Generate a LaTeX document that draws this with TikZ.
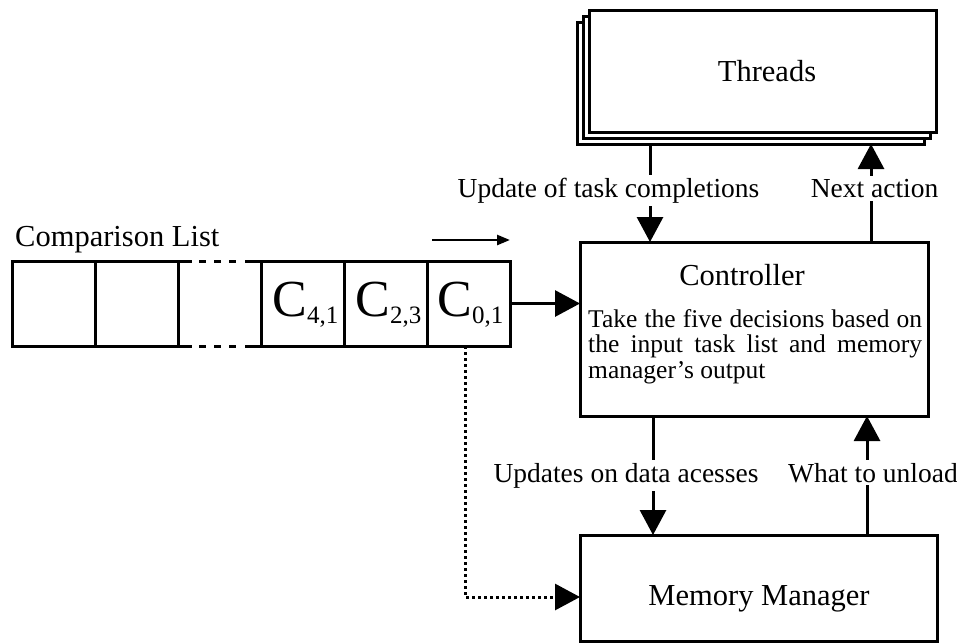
\documentclass[tikz,border=0pt]{standalone}
\usepackage{fontspec}
\setmainfont{Liberation Serif}
\usetikzlibrary{arrows.meta,calc}
\hyphenpenalty=10000
\exhyphenpenalty=10000

\begin{document}
\begin{tikzpicture}[x=1pt,y=-1pt,
  box/.style={draw, line width=3pt, fill=white, inner sep=0pt, outer sep=0pt},
  cell/.style={box, minimum width=83pt, minimum height=85pt},
  gapcell/.style={inner sep=0pt, outer sep=0pt, minimum width=83pt, minimum height=85pt},
  arr/.style={line width=3pt, -{Triangle[length=25pt,width=26pt]}},
  dotarr/.style={arr, dash pattern=on 3pt off 3pt},
  lbl/.style={fill=white, inner sep=3pt, anchor=base, font=\fontsize{27.5}{30}\selectfont},
  ttl/.style={anchor=base, inner sep=0pt, font=\fontsize{30.5}{33}\selectfont},
  clabel/.style={anchor=base, inner sep=0pt, font=\fontsize{52}{52}\selectfont},
  seg/.style={line width=3pt},
]
\newcommand{\csub}[1]{\raisebox{-6.5pt}{\fontsize{25}{25}\selectfont #1}}
\useasboundingbox (0,0) rectangle (957,643);

% ---- thread stack (back to front) ----
\node[box, minimum width=347pt, minimum height=122pt] (thr3) at (750.5,83) {};
\node[box, minimum width=347pt, minimum height=122pt] (thr2) at (756.5,77) {};
\node[box, minimum width=347pt, minimum height=122pt] (thr)  at (762.5,71) {};
\node[ttl] (thrtxt) at (767,81.7) {Threads};

% ---- controller ----
\node[box, minimum width=348pt, minimum height=174pt] (ctl) at (754,329) {};
\node[ttl] (ctltxt) at (742,285) {Controller};
\node[anchor=base west, inner sep=0pt, text width=334pt, align=justify,
      font=\fontsize{25.5}{25.5}\selectfont] (desc) at (588,327)
  {Take the five decisions based on the input task list and memory manager’s output};

% ---- memory manager ----
\node[box, minimum width=357pt, minimum height=106pt] (mem) at (758.5,588) {};
\node[ttl] (memtxt) at (759,605) {Memory Manager};

% ---- comparison list ----
\node[anchor=base west, inner sep=0pt, font=\fontsize{30.5}{33}\selectfont] (cltitle) at (15,246) {Comparison List};
\node[cell] (c1) at (53.5,303.5) {};
\node[cell] (c2) at (136.5,303.5) {};
\node[gapcell] (c3) at (219.5,303.5) {};
\node[cell] (c4) at (302.5,303.5) {};
\node[cell] (c5) at (385.5,303.5) {};
\node[cell] (c6) at (468.5,303.5) {};
% elided cell: solid ends, dashed middle
\draw[seg] (c3.north west) -- ([xshift=14pt]c3.north west);
\draw[seg] (c3.south west) -- ([xshift=14pt]c3.south west);
\draw[seg] (c3.north east) -- ([xshift=-16pt]c3.north east);
\draw[seg] (c3.south east) -- ([xshift=-16pt]c3.south east);
\draw[seg, dash pattern=on 7pt off 8pt] ([xshift=21pt]c3.north west) -- ([xshift=-23pt]c3.north east);
\draw[seg, dash pattern=on 7pt off 8pt] ([xshift=21pt]c3.south west) -- ([xshift=-23pt]c3.south east);

\node[clabel] (l4) at ($(c4.center)+(3,13)$) {C\csub{4,1}};
\node[clabel] (l5) at ($(c5.center)+(3,13)$) {C\csub{2,3}};
\node[clabel] (l6) at ($(c6.center)+(2,13)$) {C\csub{0,1}};

% direction marker above the list
\coordinate (dirA) at (432,240);
\coordinate (dirB) at (510,240);
\draw[line width=2.5pt, -{Triangle[length=13pt,width=10pt]}] (dirA) -- (dirB);

% ---- connectors ----
\coordinate (updx) at (650,0);
\coordinate (nax) at (871,0);
\coordinate (dax) at (653,0);
\coordinate (unx) at (867,0);
\coordinate (dturn) at (465,597);

\draw[arr] (thr3.south -| updx) -- (ctl.north -| updx);
\draw[arr] (ctl.north -| nax) -- (thr3.south -| nax);
\draw[arr] (ctl.south -| dax) -- (mem.north -| dax);
\draw[arr] (mem.north -| unx) -- (ctl.south -| unx);
\draw[arr] (c6.east) -- (c6.east -| ctl.west);
\draw[dotarr] (c6.south -| dturn) -- (dturn) -- (dturn -| mem.west);

% ---- connector labels ----
\node[lbl] (lupd) at (608.5,197.5) {Update of task completions};
\node[lbl] (lnext) at (874.5,197.5) {Next action};
\node[lbl] (ldata) at (626,482) {Updates on data acesses};
\node[lbl] (lunl) at (873,482) {What to unload};
\end{tikzpicture}
\end{document}
